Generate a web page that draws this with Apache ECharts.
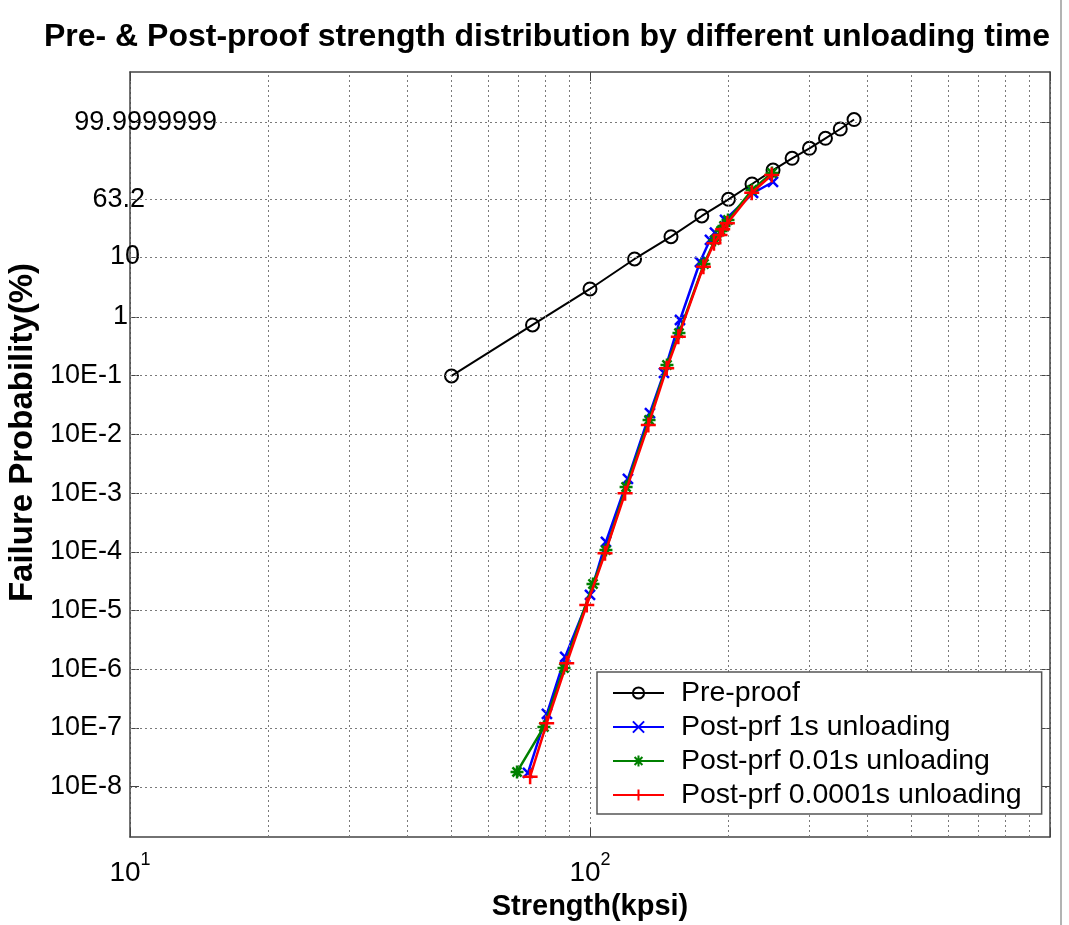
<!DOCTYPE html>
<html>
<head>
<meta charset="utf-8">
<script src="https://cdn.jsdelivr.net/npm/echarts@6/dist/echarts.min.js"></script>
<style>
  html, body { margin: 0; padding: 0; background: #fff; }
  #chart { width: 1069px; height: 925px; }
</style>
</head>
<body>
<div id="chart"></div>
<script>
// Strength (kpsi) and cumulative failure probability (%) of each population
const preStrength = [50, 75, 100, 125, 150, 175, 200, 225, 250, 275, 300, 325, 350, 375];
const preProb = [0.0987, 0.727, 2.95, 9.25, 20.75, 40.8, 63.5, 84.1, 95.8, 99.35, 99.942, 99.99837, 99.9999873, 99.99999999];

const post1sStrength = [73.3, 80.6, 88.3, 100, 108.3, 120.9, 135.0, 144.8, 156.9, 173.4, 182.3, 186.9, 196.6, 226.2, 249.9];
const post1sProb = [1.71e-8, 1.73e-7, 1.62e-6, 1.84e-5, 1.47e-4, 1.74e-3, 0.0231, 0.111, 0.883, 8.26, 18.5, 23.8, 36.1, 72.5, 86.3];

const post001sStrength = [69.4, 79.4, 87.8, 101.5, 108.3, 119.8, 134.4, 147.0, 156.1, 176.9, 186.9, 192.7, 195.6, 199.5, 225.0, 248.7];
const post001sProb = [1.78e-8, 1.04e-7, 1.05e-6, 2.83e-5, 1.07e-4, 1.27e-3, 0.0176, 0.152, 0.53, 7.66, 18.5, 25.2, 29.8, 36.1, 76.6, 94.1];

const post00001sStrength = [74.1, 80.5, 89.0, 98.4, 107.8, 119.2, 133.9, 146.8, 155.6, 176.4, 186.0, 191.7, 194.3, 198.9, 224.7, 248.3];
const post00001sProb = [1.48e-8, 1.2e-7, 1.26e-6, 1.24e-5, 9.4e-5, 9.9e-4, 0.0144, 0.133, 0.46, 6.92, 16.4, 22.0, 26.7, 32.5, 72.9, 92.7];

// Probability-axis ticks (%) and their labels
const probTicks = [99.9999999, 63.2, 10, 1, 0.1, 0.01, 1e-3, 1e-4, 1e-5, 1e-6, 1e-7, 1e-8];
const probTickLabels = ['99.9999999', '63.2', '10', '1', '10E-1', '10E-2', '10E-3', '10E-4', '10E-5', '10E-6', '10E-7', '10E-8'];

// Minor strength grid values (kpsi)
const strengthGrid = [20, 30, 40, 50, 60, 70, 80, 90, 200, 300, 400, 500, 600, 700, 800, 900];

// Weibull probability scale: ln(-ln(1 - F))
function weib(pct) {
  return Math.log(-Math.log1p(-pct / 100));
}

const tickW = probTicks.map(weib);
// per-label right padding (px) for the probability labels
const labelPad = [0, 72, 77, 89, 95, 95, 95, 95, 95, 95, 95, 95];

const FONT = 'Liberation Sans, Arial, Helvetica, sans-serif';

const rich = {};
probTickLabels.forEach((t, i) => {
  rich['r' + i] = { fontSize: 27, fontFamily: FONT, color: '#000', padding: [0, labelPad[i], 0, 0] };
});

function pts(xs, ps) {
  return xs.map((x, i) => [x, weib(ps[i])]);
}

const gridLineStyle = { type: [2, 3], color: '#7a7a7a', width: 1 };
const frameColor = '#444';

const chart = echarts.init(document.getElementById('chart'), null, { renderer: 'canvas' });

const option = {
  animation: false,
  backgroundColor: '#fff',
  title: {
    text: 'Pre- & Post-proof strength distribution by different unloading time',
    left: 542,
    top: 16,
    textAlign: 'center',
    textStyle: { fontFamily: FONT, fontWeight: 'bold', fontSize: 32, color: '#000' }
  },
  grid: { left: 130, right: 19, top: 72, bottom: 88, containLabel: false, outerBoundsMode: 'none' },
  legend: {
    z: 20,
    orient: 'vertical',
    left: 597,
    top: 672,
    padding: [6, 20, 4, 15],
    itemGap: 4,
    itemWidth: 51,
    itemHeight: 14,
    backgroundColor: '#fff',
    borderColor: '#555',
    borderWidth: 1.5,
    borderRadius: 0,
    textStyle: { fontFamily: FONT, fontSize: 28.5, color: '#000', lineHeight: 30, padding: [0, 0, 0, 12] },
    data: ['Pre-proof', 'Post-prf 1s unloading', 'Post-prf 0.01s unloading', 'Post-prf 0.0001s unloading']
  },
  xAxis: [
    {
      type: 'log',
      logBase: 10,
      min: 10,
      max: 1000,
      position: 'bottom',
      name: 'Strength(kpsi)',
      nameLocation: 'middle',
      nameGap: 55,
      nameTextStyle: { fontFamily: FONT, fontWeight: 'bold', fontSize: 29, color: '#000' },
      axisLine: { show: true, onZero: false, lineStyle: { color: frameColor, width: 1.5 } },
      axisTick: { show: true, inside: true, length: 9, lineStyle: { color: frameColor } },
      splitLine: { show: true, lineStyle: gridLineStyle },
      axisLabel: {
        margin: 14,
        formatter: function (v) {
          const e = Math.round(Math.log10(v));
          if (e >= 3) return '';
          return '{b|10}{s|' + e + '}';
        },
        rich: {
          b: { fontFamily: FONT, fontSize: 28, color: '#000', lineHeight: 36, verticalAlign: 'bottom' },
          s: { fontFamily: FONT, fontSize: 18, color: '#000', lineHeight: 36, verticalAlign: 'top', padding: [0, 0, 16, 0] }
        }
      }
    },
    {
      type: 'log',
      logBase: 10,
      min: 10,
      max: 1000,
      position: 'top',
      axisLine: { show: true, onZero: false, lineStyle: { color: frameColor, width: 1.5 } },
      axisTick: { show: true, inside: true, length: 9, lineStyle: { color: frameColor } },
      axisLabel: { show: false },
      splitLine: { show: false }
    }
  ],
  yAxis: [
    {
      type: 'value',
      min: -25,
      max: 5,
      position: 'left',
      name: 'Failure Probability(%)',
      nameLocation: 'middle',
      nameGap: 72,
      nameRotate: 90,
      nameTextStyle: { fontFamily: FONT, fontWeight: 'bold', fontSize: 33, color: '#000', padding: [0, 0, 0, 44] },
      axisLine: { show: true, onZero: false, lineStyle: { color: frameColor, width: 1.5 } },
      axisTick: { show: true, inside: true, length: 9, customValues: tickW, lineStyle: { color: frameColor } },
      splitLine: { show: false },
      axisLabel: {
        customValues: tickW,
        align: 'right',
        margin: -87,
        formatter: function (v) {
          let best = 0;
          for (let i = 1; i < tickW.length; i++) {
            if (Math.abs(tickW[i] - v) < Math.abs(tickW[best] - v)) best = i;
          }
          return '{r' + best + '|' + probTickLabels[best] + '}';
        },
        rich: rich
      }
    },
    {
      type: 'value',
      min: -25,
      max: 5,
      position: 'right',
      axisLine: { show: true, onZero: false, lineStyle: { color: frameColor, width: 1.5 } },
      axisTick: { show: true, inside: true, length: 9, customValues: tickW, lineStyle: { color: frameColor } },
      axisLabel: { show: false },
      splitLine: { show: false }
    }
  ],
  graphic: [
    { type: 'line', shape: { x1: 1061, y1: 0, x2: 1061, y2: 925 }, style: { stroke: '#9a9a9a', lineWidth: 1.5 }, silent: true }
  ],
  series: [
    {
      // dotted grid of the probability plot
      type: 'line',
      data: [],
      silent: true,
      z: 1,
      markLine: {
        silent: true,
        symbol: ['none', 'none'],
        label: { show: false },
        lineStyle: gridLineStyle,
        animation: false,
        data: tickW.map(w => ({ yAxis: w })).concat(strengthGrid.map(v => ({ xAxis: v })))
      }
    },
    {
      name: 'Pre-proof',
      type: 'line',
      data: pts(preStrength, preProb),
      symbol: 'circle',
      symbolSize: 13,
      showAllSymbol: true,
      lineStyle: { color: '#000', width: 2 },
      itemStyle: { color: 'rgba(255,255,255,0)', borderColor: '#000', borderWidth: 2 },
      emphasis: { disabled: true },
      z: 3
    },
    {
      name: 'Post-prf 1s unloading',
      type: 'line',
      data: pts(post1sStrength, post1sProb),
      symbol: 'path://M0,0L10,10M10,0L0,10',
      symbolSize: 10,
      showAllSymbol: true,
      lineStyle: { color: '#0000ff', width: 2.5 },
      itemStyle: { color: '#0000ff', borderColor: '#0000ff', borderWidth: 2.5 },
      emphasis: { disabled: true },
      z: 4
    },
    {
      name: 'Post-prf 0.01s unloading',
      type: 'line',
      data: pts(post001sStrength, post001sProb),
      symbol: 'path://M5,0L5,10M0,5L10,5M1.5,1.5L8.5,8.5M8.5,1.5L1.5,8.5',
      symbolSize: 13,
      showAllSymbol: true,
      lineStyle: { color: '#008000', width: 2.5 },
      itemStyle: { color: '#008000', borderColor: '#008000', borderWidth: 2.5 },
      emphasis: { disabled: true },
      z: 5
    },
    {
      name: 'Post-prf 0.0001s unloading',
      type: 'line',
      data: pts(post00001sStrength, post00001sProb),
      symbol: 'path://M5,0L5,10M0,5L10,5',
      symbolSize: 15,
      showAllSymbol: true,
      lineStyle: { color: '#ff0000', width: 2.5 },
      itemStyle: { color: '#ff0000', borderColor: '#ff0000', borderWidth: 2.5 },
      emphasis: { disabled: true },
      z: 6
    }
  ]
};

chart.setOption(option);
</script>
</body>
</html>
